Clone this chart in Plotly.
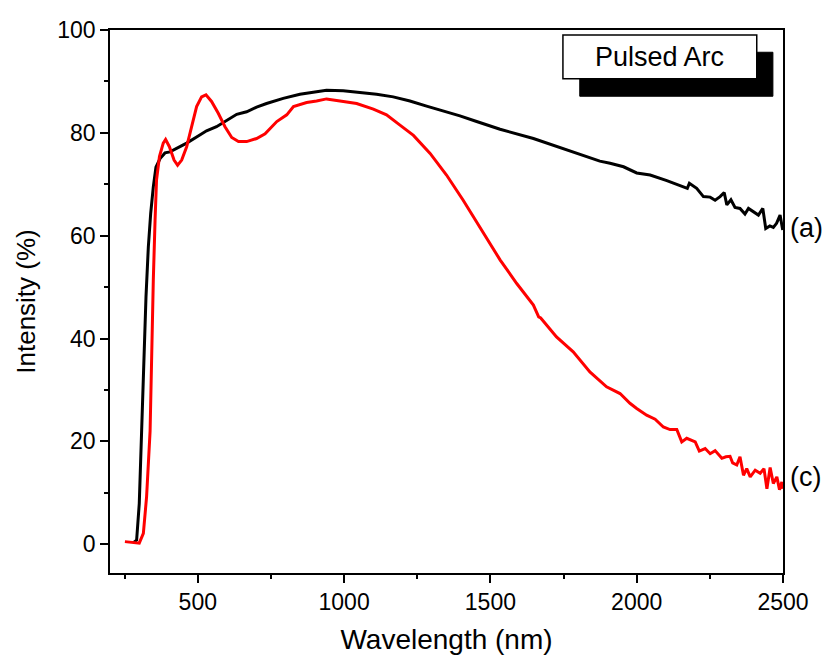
import plotly.graph_objects as go

# Curve (a) - black
wl_a = [280, 291, 300, 308, 314, 323, 331, 339, 348, 357, 371, 388, 405, 428, 462, 496, 530, 564,
        599, 633, 667, 701, 735, 792, 849, 906, 940, 997, 1054, 1111, 1168, 1225, 1282, 1339, 1396,
        1453, 1533, 1647, 1761, 1874, 1909, 1955, 2000, 2046, 2103, 2148, 2173, 2180, 2205, 2228,
        2251, 2268, 2285, 2299, 2308, 2322, 2336, 2353, 2370, 2382, 2399, 2416, 2431, 2441, 2455,
        2467, 2478, 2490, 2499]
int_a = [0.3, 0.8, 7.9, 22.2, 35.2, 48.1, 57.8, 64.3, 69.5, 73.3, 75.0, 76.1, 76.3, 77.0, 78.0, 79.2,
         80.4, 81.2, 82.4, 83.6, 84.1, 85.0, 85.7, 86.7, 87.5, 88.0, 88.3, 88.2, 87.9, 87.5, 87.0, 86.2,
         85.2, 84.3, 83.3, 82.2, 80.7, 78.9, 76.7, 74.5, 74.1, 73.4, 72.2, 71.8, 70.7, 69.7, 69.2, 70.2,
         69.2, 67.6, 67.5, 66.9, 67.6, 68.4, 66.0, 67.0, 65.5, 65.3, 64.2, 65.3, 64.6, 64.0, 65.3, 61.4,
         61.9, 61.6, 62.4, 64.0, 61.1]

# Curve (c) - red
wl_c = [251, 270, 290, 300, 314, 325, 337, 342, 348, 354, 359, 369, 382, 390, 403, 419, 431, 445, 462,
        479, 496, 513, 528, 547, 570, 593, 616, 639, 667, 701, 730, 770, 804, 827, 872, 906, 940, 986,
        1043, 1100, 1145, 1191, 1237, 1294, 1350, 1407, 1476, 1533, 1590, 1647, 1665, 1672, 1726, 1783,
        1840, 1897, 1943, 1977, 2000, 2034, 2063, 2091, 2114, 2137, 2154, 2171, 2200, 2214, 2234, 2251,
        2268, 2291, 2305, 2319, 2328, 2342, 2353, 2365, 2376, 2388, 2405, 2422, 2435, 2445, 2456, 2467,
        2479, 2488, 2496, 2500]
int_c = [0.5, 0.4, 0.2, 0.2, 2.1, 9.2, 22, 38.4, 51.4, 63, 70.8, 75.4, 78, 78.7, 77.3, 74.7, 73.7, 74.7,
         77.3, 81.2, 85.1, 87.0, 87.4, 86.1, 83.8, 81.2, 79.1, 78.3, 78.3, 78.9, 79.8, 82.2, 83.5, 85.1,
         85.9, 86.2, 86.6, 86.2, 85.7, 84.6, 83.5, 81.5, 79.5, 76.0, 71.8, 66.9, 60.4, 55.3, 50.7, 46.5,
         44.2, 44.0, 40.3, 37.4, 33.5, 30.6, 29.3, 27.4, 26.4, 25.1, 24.3, 22.8, 22.3, 22.3, 19.9, 20.6,
         19.9, 18.1, 18.6, 17.6, 18.2, 16.7, 17.0, 17.1, 15.8, 15.4, 17.0, 13.4, 14.7, 13.1, 14.4, 13.8,
         14.7, 10.8, 14.9, 11.8, 13.1, 10.6, 12.1, 10.8]

x_ticks = [500, 1000, 1500, 2000, 2500]
y_ticks = [0, 20, 40, 60, 80, 100]
title_text = "Pulsed Arc"
curve_labels = ["(a)", "(c)"]

FONT = "Liberation Sans, Arial, sans-serif"

fig = go.Figure()
fig.add_trace(go.Scatter(x=wl_a, y=int_a, mode="lines", line=dict(color="#000000", width=3),
                         showlegend=False))
fig.add_trace(go.Scatter(x=wl_c, y=int_c, mode="lines", line=dict(color="#FF0000", width=3),
                         showlegend=False))

fig.update_layout(
    width=829, height=655,
    margin=dict(l=110, r=46, t=30, b=82),
    paper_bgcolor="white", plot_bgcolor="white",
    font=dict(family=FONT, color="black", size=22),
    showlegend=False,
)
fig.update_xaxes(
    range=[200, 2500], tickvals=x_ticks, ticktext=[str(v) for v in x_ticks],
    showgrid=False, zeroline=False, showline=True, linecolor="black", linewidth=1.5, mirror=True,
    ticks="outside", ticklen=8, tickwidth=1.5, tickcolor="black",
    minor=dict(dtick=250, tick0=0, ticks="outside", ticklen=4, tickwidth=1.5, tickcolor="black"),
    tickfont=dict(size=23), automargin=False,
    title=dict(text="Wavelength (nm)", font=dict(size=28), standoff=16),
)
fig.update_yaxes(
    range=[-5.6, 100], tickvals=y_ticks, ticktext=[str(v) for v in y_ticks],
    showgrid=False, zeroline=False, showline=True, linecolor="black", linewidth=1.5, mirror=True,
    ticks="outside", ticklen=8, tickwidth=1.5, tickcolor="black",
    minor=dict(dtick=10, tick0=0, ticks="outside", ticklen=4, tickwidth=1.5, tickcolor="black"),
    tickfont=dict(size=23), automargin=False,
    title=dict(text="Intensity (%)", font=dict(size=26), standoff=14),
)

# Pulsed Arc label box with shadow
fig.add_shape(type="rect", xref="paper", yref="paper", x0=0.698, x1=0.985, y0=0.878, y1=0.959,
              fillcolor="black", line=dict(color="black", width=1))
fig.add_shape(type="rect", xref="paper", yref="paper", x0=0.673, x1=0.961, y0=0.910, y1=0.991,
              fillcolor="white", line=dict(color="black", width=1.5))
fig.add_annotation(xref="paper", yref="paper", x=0.817, y=0.950, text=title_text, showarrow=False,
                   font=dict(size=27, family=FONT, color="black"), xanchor="center", yanchor="middle")

fig.add_annotation(xref="paper", yref="paper", x=1.007, y=0.635, text=curve_labels[0], showarrow=False,
                   font=dict(size=27, family=FONT, color="black"), xanchor="left", yanchor="middle")
fig.add_annotation(xref="paper", yref="paper", x=1.007, y=0.177, text=curve_labels[1], showarrow=False,
                   font=dict(size=27, family=FONT, color="black"), xanchor="left", yanchor="middle")

fig.write_html("out.html")
